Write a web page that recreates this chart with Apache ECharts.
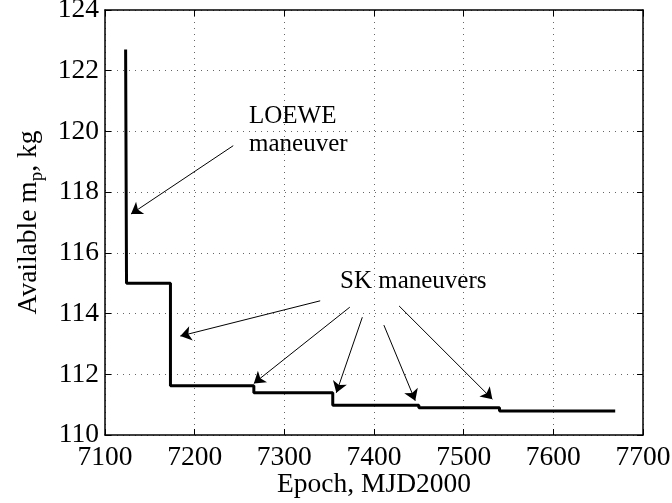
<!DOCTYPE html>
<html>
<head>
<meta charset="utf-8">
<script src="https://cdn.jsdelivr.net/npm/echarts@6/dist/echarts.min.js"></script>
<style>
  html, body { margin: 0; padding: 0; background: #fff; }
  #chart { width: 672px; height: 503px; }
</style>
</head>
<body>
<div id="chart"></div>
<script>
// epoch of each drop, and the propellant left after it (step 'end')
var epochs = [7123, 7124, 7173, 7266, 7354, 7450, 7540, 7669];
var masses = [122.7, 115.0, 111.62, 111.39, 110.98, 110.90, 110.79, 110.79];

var xTicks = [7100, 7200, 7300, 7400, 7500, 7600, 7700];
var yTicks = [110, 112, 114, 116, 118, 120, 122, 124];

// annotation arrows: [fromEpoch, fromMass, toEpoch, toMass]
var loeweArrow = [[7243, 119.53, 7129, 117.28]];
var skArrows = [
  [7340, 114.42, 7184, 113.26],
  [7373, 114.21, 7266, 111.70],
  [7387, 113.88, 7358, 111.39],
  [7411, 113.62, 7446, 111.13],
  [7428, 114.25, 7532, 111.18]
];

var font = 'Liberation Serif';
var chart = echarts.init(document.getElementById('chart'));

var arrowLines = loeweArrow.concat(skArrows).map(function (a) {
  return [{ coord: [a[0], a[1]] }, { coord: [a[2], a[3]] }];
});

var option = {
  animation: false,
  backgroundColor: '#fff',
  grid: { left: 105, top: 10, right: 29, bottom: 68, outerBoundsMode: 'none', containLabel: false },
  xAxis: [{
    type: 'value',
    min: xTicks[0], max: xTicks[xTicks.length - 1], interval: 100,
    name: 'Epoch, MJD2000',
    nameLocation: 'middle',
    nameGap: 36,
    nameMoveOverlap: false,
    nameTextStyle: { fontFamily: font, fontSize: 27.5, color: '#000' },
    axisLine: { show: true, lineStyle: { color: '#000', width: 1.5 } },
    axisTick: { show: true, inside: true, length: 6, lineStyle: { color: '#000' } },
    axisLabel: { fontFamily: font, fontSize: 27.5, color: '#000', margin: 9, formatter: function (v) { return String(v); } },
    splitLine: { show: true, lineStyle: { color: '#666', type: [1, 5], width: 1 } }
  }, {
    type: 'value', position: 'top',
    min: xTicks[0], max: xTicks[xTicks.length - 1], interval: 100,
    axisLine: { show: true, lineStyle: { color: '#000', width: 1.5 } },
    axisTick: { show: true, inside: true, length: 6, lineStyle: { color: '#000' } },
    axisLabel: { show: false },
    splitLine: { show: false }
  }],
  yAxis: [{
    type: 'value',
    min: yTicks[0], max: yTicks[yTicks.length - 1], interval: 2,
    name: 'Available m{sub|p}, kg',
    nameLocation: 'middle',
    nameGap: 58,
    nameMoveOverlap: false,
    nameTextStyle: {
      fontFamily: font, fontSize: 27.5, color: '#000',
      rich: {
        sub: { fontFamily: font, fontSize: 19, color: '#000', verticalAlign: 'top', padding: [18, 0, 0, 0] }
      }
    },
    axisLine: { show: true, lineStyle: { color: '#000', width: 1.5 } },
    axisTick: { show: true, inside: true, length: 6, lineStyle: { color: '#000' } },
    axisLabel: { fontFamily: font, fontSize: 27.5, color: '#000', margin: 6 },
    splitLine: { show: true, lineStyle: { color: '#666', type: [1, 5], width: 1 } }
  }, {
    type: 'value', position: 'right',
    min: yTicks[0], max: yTicks[yTicks.length - 1], interval: 2,
    axisLine: { show: true, lineStyle: { color: '#000', width: 1.5 } },
    axisTick: { show: true, inside: true, length: 6, lineStyle: { color: '#000' } },
    axisLabel: { show: false },
    splitLine: { show: false }
  }],
  series: [{
    type: 'line',
    step: 'end',
    data: epochs.map(function (e, i) { return [e, masses[i]]; }),
    showSymbol: false,
    lineStyle: { color: '#000', width: 3 },
    silent: true,
    markLine: {
      silent: true,
      symbol: ['none', 'arrow'],
      symbolSize: 11,
      label: { show: false },
      lineStyle: { color: '#000', width: 1, type: 'solid' },
      emphasis: { disabled: true },
      data: arrowLines
    }
  }],
  graphic: [{
    type: 'text', left: 249, top: 102,
    style: { text: 'LOEWE\nmaneuver', font: '25px "Liberation Serif"', fill: '#000', lineHeight: 28 }
  }, {
    type: 'text', left: 340, top: 269,
    style: { text: 'SK maneuvers', font: '25px "Liberation Serif"', fill: '#000' }
  }]
};

chart.setOption(option);
</script>
</body>
</html>
